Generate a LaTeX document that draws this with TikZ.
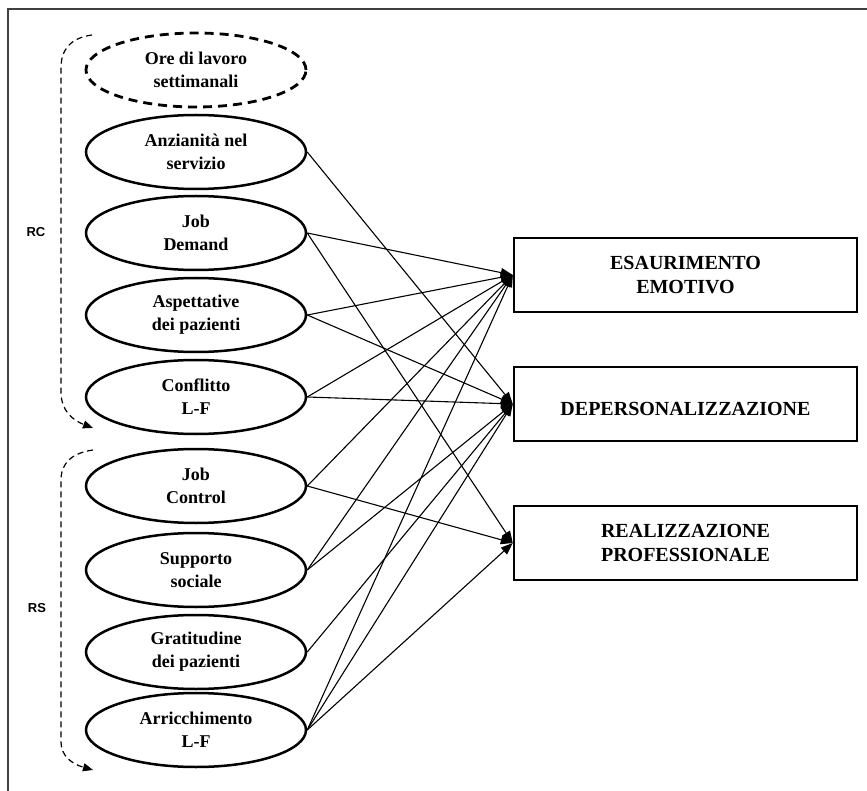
\documentclass[tikz,border=0pt]{standalone}
\usepackage{fontspec}
\setmainfont{Liberation Serif}
\newfontfamily\labelfont{Liberation Sans}
\usetikzlibrary{shapes.geometric,% ellipse nodes
arrows.meta}
\tikzset{every node/.style={font=\bfseries\fontsize{18}{23}\selectfont},
  var/.style={ellipse,draw,line width=2.5pt,minimum width=220pt,
    minimum height=74pt,inner sep=0pt,align=center},
  outbox/.style={rectangle,draw,line width=2.5pt,minimum width=343pt,
    minimum height=74pt,inner sep=0pt,align=center,
    font=\bfseries\fontsize{20}{24}\selectfont},
  link/.style={line width=1.1pt,-{Triangle[length=12pt,width=9pt]}},
  bracket/.style={line width=1.2pt,dash pattern=on 6pt off 4pt,
    -{Triangle[length=10pt,width=8pt]}},
  grouplabel/.style={font=\labelfont\bfseries\fontsize{13}{15}\selectfont}}
\begin{document}
\begin{tikzpicture}[x=1pt,y=-1pt]
\useasboundingbox (0,0) rectangle (867,791);
% frame
\draw[line width=2pt,black!75] (8,791) -- (8,9.5) -- (867,9.5);
% predictors
\node[var,dash pattern=on 9pt off 6pt,line width=2.8pt] (ore) at (196,70)
  {Ore di lavoro\\settimanali};
\foreach \nm/\yy/\txt in {anz/152/{Anzianità nel\\servizio},
  jd/233/{Job\\Demand}, asp/315/{Aspettative\\dei pazienti},
  conf/397/{Conflitto\\L-F}, jc/486/{Job\\Control},
  supp/570/{Supporto\\sociale}, grat/652/{Gratitudine\\dei pazienti},
  arr/730/{Arricchimento\\L-F}}
  \node[var] (\nm) at (196,\yy) {\txt};
% outcomes
\node[outbox] (ee) at (685.5,275) {ESAURIMENTO\\EMOTIVO};
\node[outbox] (dp) at (685.5,404) {\mbox{}\\DEPERSONALIZZAZIONE};
\node[outbox] (rp) at (685.5,543) {REALIZZAZIONE\\PROFESSIONALE};
% paths
\foreach \a/\b in {anz/dp,jd/ee,jd/rp,asp/ee,asp/dp,conf/ee,conf/dp,
  jc/ee,jc/rp,supp/ee,supp/dp,grat/dp,arr/ee,arr/dp,arr/rp}
  \draw[link] (\a.east) -- (\b.west);
% RC and RS groups
\draw[bracket] (92,35) .. controls (70,38) and (61,50) .. (61,68)
  -- (61,392) .. controls (61,410) and (72,420) .. (93,428);
\draw[bracket] (93,450) .. controls (72,453) and (61,463) .. (61,480)
  -- (61,742) .. controls (61,756) and (72,764) .. (93,770);
\node[grouplabel] (rc) at (36,232) {RC};
\node[grouplabel] (rs) at (37,608) {RS};
\end{tikzpicture}
\end{document}
